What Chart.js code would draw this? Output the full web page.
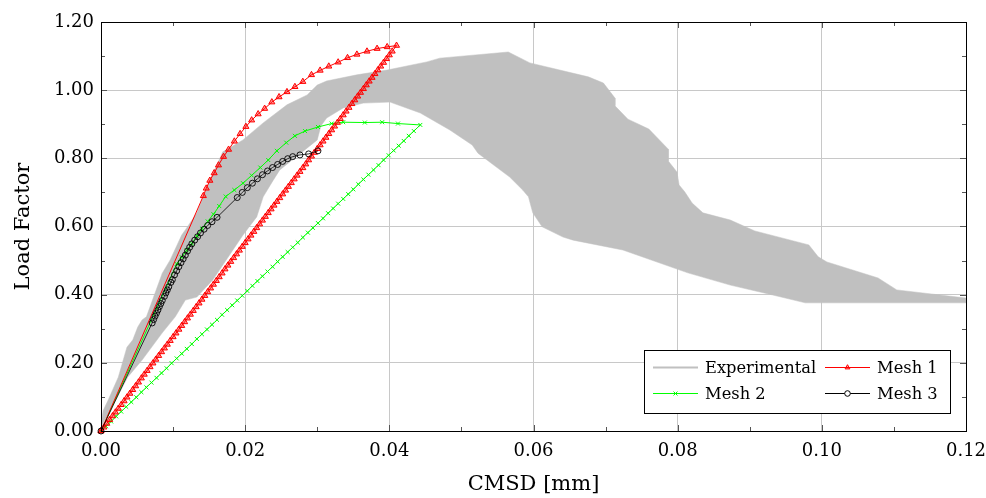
<!DOCTYPE html>
<html>
<head>
<meta charset="utf-8">
<script src="https://cdn.jsdelivr.net/npm/chart.js@4.4.0/dist/chart.umd.min.js"></script>
<style>
  html, body { margin: 0; padding: 0; background: #fff; }
  #wrap { width: 986px; height: 498px; }
</style>
</head>
<body>
<div id="wrap"><canvas id="chart"></canvas></div>
<script>
// tick values
const xTicks = [0, 0.02, 0.04, 0.06, 0.08, 0.10, 0.12];
const yTicks = [0, 0.2, 0.4, 0.6, 0.8, 1.0, 1.2];

// experimental envelope (upper edge left->right, lower edge right->left)
const expUpper = [[0,0.02],[0.0003,0.06],[0.001,0.091],[0.0024,0.158],[0.0036,0.246],[0.0044,0.267],[0.0051,0.305],[0.0057,0.326],[0.0063,0.335],
  [0.0085,0.463],[0.0096,0.502],[0.0112,0.575],[0.0117,0.59],[0.0133,0.640],[0.0151,0.736],[0.0169,0.819],[0.0197,0.854],[0.0225,0.904],
  [0.0258,0.957],[0.0286,0.986],[0.030,1.015],[0.0313,1.027],[0.0355,1.045],[0.0397,1.059],[0.0452,1.083],[0.047,1.094],[0.0565,1.112],
  [0.0595,1.080],[0.0676,1.039],[0.0697,1.021],[0.0713,0.977],[0.0713,0.954],[0.0731,0.915],[0.076,0.886],[0.0787,0.827],[0.0787,0.792],
  [0.0799,0.760],[0.0802,0.722],[0.081,0.701],[0.082,0.669],[0.0835,0.640],[0.0873,0.619],[0.0907,0.587],[0.0982,0.546],[0.0995,0.511],
  [0.1007,0.496],[0.1078,0.449],[0.1104,0.414],[0.12,0.390]];
const expLower = [[0.12,0.376],[0.0977,0.376],[0.0932,0.399],[0.0873,0.428],[0.0814,0.464],[0.0724,0.531],[0.0655,0.560],[0.0641,0.569],
  [0.0612,0.599],[0.0599,0.640],[0.0593,0.687],[0.0585,0.707],[0.0567,0.745],[0.0523,0.815],[0.0515,0.839],[0.0484,0.883],[0.0443,0.933],
  [0.0401,0.965],[0.0364,0.962],[0.0336,0.948],[0.0313,0.918],[0.0305,0.895],[0.030,0.854],[0.0248,0.766],[0.0239,0.736],[0.0225,0.687],
  [0.0216,0.628],[0.0197,0.575],[0.0183,0.531],[0.0155,0.443],[0.0133,0.393],[0.0117,0.384],[0.0103,0.335],[0.0085,0.288],[0.0057,0.208],
  [0.0037,0.158],[0.0015,0.070],[0,0.012]];

// Mesh 1: loading curve then straight unloading
const mesh1Load = [[0,0],[0.0142,0.690],[0.0146,0.712],[0.0151,0.735],[0.0157,0.757],[0.0163,0.780],[0.0170,0.805],[0.0177,0.826],
  [0.0185,0.850],[0.0193,0.872],[0.0201,0.893],[0.0209,0.912],[0.0218,0.930],[0.0227,0.946],[0.0237,0.965],[0.0247,0.980],[0.0258,0.995],
  [0.0269,1.010],[0.0280,1.025],[0.0292,1.045],[0.0304,1.058],[0.0316,1.070],[0.0329,1.082],[0.0342,1.095],[0.0355,1.105],[0.0369,1.114],
  [0.0383,1.122],[0.0397,1.127],[0.0410,1.131]];
const mesh1Unload = [[0.0404,1.114],[0.0400,1.103],[0.0396,1.092],[0.0392,1.081],[0.0388,1.070],[0.0384,1.059],[0.0380,1.048],[0.0376,1.037],
  [0.0372,1.026],[0.0368,1.015],[0.0364,1.004],[0.0360,0.993],[0.0356,0.982],[0.0352,0.971],[0.0348,0.960],[0.0344,0.949],[0.0340,0.938],
  [0.0336,0.927],[0.0332,0.916],[0.0328,0.905],[0.0324,0.894],[0.0320,0.883],[0.0316,0.872],[0.0312,0.861],[0.0308,0.850],[0.0304,0.839],
  [0.0300,0.828],[0.0296,0.817],[0.0292,0.806],[0.0288,0.795],[0.0284,0.783],[0.0280,0.772],[0.0276,0.761],[0.0272,0.750],[0.0268,0.739],
  [0.0264,0.728],[0.0260,0.717],[0.0256,0.706],[0.0252,0.695],[0.0248,0.684],[0.0244,0.673],[0.0240,0.662],[0.0236,0.651],[0.0232,0.640],
  [0.0228,0.629],[0.0224,0.618],[0.0220,0.607],[0.0216,0.596],[0.0212,0.585],[0.0208,0.574],[0.0204,0.563],[0.0200,0.552],[0.0196,0.541],
  [0.0192,0.530],[0.0188,0.519],[0.0184,0.508],[0.0180,0.497],[0.0176,0.486],[0.0172,0.475],[0.0168,0.463],[0.0164,0.452],[0.0160,0.441],
  [0.0156,0.430],[0.0152,0.419],[0.0148,0.408],[0.0144,0.397],[0.0140,0.386],[0.0136,0.375],[0.0132,0.364],[0.0128,0.353],[0.0124,0.342],
  [0.0120,0.331],[0.0116,0.320],[0.0112,0.309],[0.0108,0.298],[0.0104,0.287],[0.0100,0.276],[0.0096,0.265],[0.0092,0.254],[0.0088,0.243],
  [0.0084,0.232],[0.0080,0.221],[0.0076,0.210],[0.0072,0.199],[0.0068,0.188],[0.0064,0.177],[0.0060,0.166],[0.0056,0.155],[0.0052,0.143],
  [0.0048,0.132],[0.0044,0.121],[0.0040,0.110],[0.0036,0.099],[0.0032,0.088],[0.0028,0.077],[0.0024,0.066],[0.0020,0.055],[0.0016,0.044],
  [0.0012,0.033],[0.0008,0.022],[0.0004,0.011],[0,0]];

// Mesh 2
const mesh2Load = [[0,0],[0.0105,0.49],[0.0112,0.51],[0.0119,0.53],[0.0126,0.55],[0.0133,0.572],[0.0140,0.594],[0.0148,0.615],[0.0156,0.636],
  [0.0164,0.660],[0.0173,0.688],[0.0185,0.707],[0.0197,0.727],[0.0209,0.750],[0.0221,0.773],[0.0232,0.795],[0.0244,0.822],[0.0257,0.846],
  [0.0269,0.866],[0.0283,0.880],[0.0301,0.892],[0.0320,0.902],[0.0336,0.906],[0.0366,0.905],[0.0390,0.906],[0.0412,0.902],[0.0443,0.898]];
const mesh2Unload = [[0.0434,0.880],[0.0427,0.866],[0.0420,0.851],[0.0413,0.837],[0.0406,0.823],[0.0399,0.809],[0.0392,0.795],[0.0385,0.780],
  [0.0378,0.766],[0.0371,0.752],[0.0364,0.738],[0.0357,0.724],[0.0350,0.709],[0.0343,0.695],[0.0336,0.681],[0.0329,0.667],[0.0322,0.653],
  [0.0315,0.639],[0.0308,0.624],[0.0301,0.610],[0.0294,0.596],[0.0287,0.582],[0.0280,0.568],[0.0273,0.553],[0.0266,0.539],[0.0259,0.525],
  [0.0252,0.511],[0.0245,0.497],[0.0238,0.482],[0.0231,0.468],[0.0224,0.454],[0.0217,0.440],[0.0210,0.426],[0.0203,0.411],[0.0196,0.397],
  [0.0189,0.383],[0.0182,0.369],[0.0175,0.355],[0.0168,0.341],[0.0161,0.326],[0.0154,0.312],[0.0147,0.298],[0.0140,0.284],[0.0133,0.270],
  [0.0126,0.255],[0.0119,0.241],[0.0112,0.227],[0.0105,0.213],[0.0098,0.199],[0.0091,0.184],[0.0084,0.170],[0.0077,0.156],[0.0070,0.142],
  [0.0063,0.128],[0.0056,0.114],[0.0049,0.099],[0.0042,0.085],[0.0035,0.071],[0.0028,0.057],[0.0021,0.043],[0.0014,0.028],[0.0007,0.014],[0,0]];

// Mesh 3
const mesh3 = [[0,0],[0.0071,0.317],[0.0073,0.327],[0.0075,0.337],[0.0077,0.346],[0.0079,0.355],[0.0081,0.365],[0.0083,0.374],[0.0085,0.383],
  [0.0088,0.395],[0.0090,0.405],[0.0092,0.414],[0.0094,0.423],[0.0097,0.436],[0.0099,0.444],[0.0102,0.458],[0.0105,0.470],[0.0108,0.482],
  [0.0111,0.494],[0.0114,0.505],[0.0117,0.516],[0.0120,0.528],[0.0123,0.539],[0.0126,0.549],[0.0130,0.560],[0.0134,0.570],[0.0138,0.581],
  [0.0143,0.592],[0.0148,0.603],[0.0154,0.614],[0.0161,0.627],[0.0189,0.685],[0.0196,0.700],[0.0203,0.714],[0.0210,0.727],[0.0217,0.740],
  [0.0224,0.752],[0.0231,0.763],[0.0238,0.773],[0.0245,0.782],[0.0252,0.791],[0.0259,0.799],[0.0266,0.805],[0.0276,0.810],[0.0288,0.813],
  [0.0301,0.822]];

const toXY = arr => arr.map(p => ({x: p[0], y: p[1]}));
const serif = 'DejaVu Serif';

// frame + inward ticks on all four sides
const framePlugin = {
  id: 'frame',
  afterDatasetsDraw(chart) {
    const {ctx, chartArea: a, scales} = chart;
    ctx.save();
    ctx.strokeStyle = '#555';
    ctx.lineWidth = 1;
    ctx.beginPath();
    for (let i = 0; i <= 12; i++) {
      const px = Math.round(scales.x.getPixelForValue(i * 0.01)) + 0.5;
      const len = i % 2 === 0 ? 6 : 4;
      ctx.moveTo(px, a.bottom); ctx.lineTo(px, a.bottom - len);
      ctx.moveTo(px, a.top); ctx.lineTo(px, a.top + len);
    }
    for (let i = 0; i <= 12; i++) {
      const py = Math.round(scales.y.getPixelForValue(i * 0.1)) + 0.5;
      const len = i % 2 === 0 ? 6 : 4;
      ctx.moveTo(a.left, py); ctx.lineTo(a.left + len, py);
      ctx.moveTo(a.right, py); ctx.lineTo(a.right - len, py);
    }
    ctx.stroke();
    ctx.strokeStyle = '#000';
    ctx.strokeRect(Math.round(a.left) + 0.5, Math.round(a.top) + 0.5, Math.round(a.right - a.left), Math.round(a.bottom - a.top));
    ctx.restore();
  }
};

// boxed legend, two columns
const legendPlugin = {
  id: 'boxLegend',
  afterDraw(chart) {
    const ctx = chart.ctx;
    const a = chart.chartArea;
    const x0 = a.right - 322, y0 = a.bottom - 81, w = 306, h = 63;
    ctx.save();
    ctx.fillStyle = '#fff';
    ctx.fillRect(x0, y0, w, h);
    ctx.strokeStyle = '#000';
    ctx.lineWidth = 1;
    ctx.strokeRect(x0 + 0.5, y0 + 0.5, w, h);
    const items = [
      {text: 'Experimental', color: '#c0c0c0', style: false, col: 0, row: 0, lw: 2},
      {text: 'Mesh 1', color: '#ff0000', style: 'triangle', fill: 'rgba(255,0,0,0.35)', col: 1, row: 0, lw: 1},
      {text: 'Mesh 2', color: '#00ff00', style: 'crossRot', col: 0, row: 1, lw: 1},
      {text: 'Mesh 3', color: '#000000', style: 'circle', fill: '#fff', col: 1, row: 1, lw: 1}
    ];
    ctx.font = '16.3px "' + serif + '"';
    ctx.textBaseline = 'middle';
    items.forEach(it => {
      const lx = x0 + 9 + it.col * 172;
      const ly = y0 + 17.5 + it.row * 26;
      ctx.strokeStyle = it.color;
      ctx.lineWidth = it.lw;
      ctx.beginPath();
      ctx.moveTo(lx, ly); ctx.lineTo(lx + 45, ly);
      ctx.stroke();
      if (it.style) {
        ctx.fillStyle = it.fill || it.color;
        ctx.lineWidth = 1;
        Chart.helpers.drawPoint(ctx, {pointStyle: it.style, radius: 2.8, borderWidth: 1, rotation: 0}, lx + 22.5, ly);
      }
      ctx.fillStyle = '#000';
      ctx.fillText(it.text, lx + 52, ly + 1);
    });
    ctx.restore();
  }
};

new Chart(document.getElementById('chart'), {
  type: 'line',
  data: {
    datasets: [
      {
        label: 'Mesh 3',
        data: toXY(mesh3),
        borderColor: '#000',
        backgroundColor: 'rgba(255,255,255,0)',
        borderWidth: 0.8,
        pointStyle: 'circle',
        pointRadius: 3,
        pointBorderWidth: 0.9,
        pointBorderColor: '#000',
        pointBackgroundColor: 'rgba(255,255,255,0)',
        fill: false, tension: 0, clip: false, order: 1
      },
      {
        label: 'Mesh 1',
        data: toXY(mesh1Load.concat(mesh1Unload)),
        borderColor: '#ff0000',
        borderWidth: 1,
        pointStyle: 'triangle',
        pointRadius: 3.5,
        pointBorderWidth: 1,
        pointBorderColor: '#ff0000',
        pointBackgroundColor: 'rgba(255,0,0,0.4)',
        fill: false, tension: 0, clip: false, order: 2
      },
      {
        label: 'Mesh 2',
        data: toXY(mesh2Load.concat(mesh2Unload)),
        borderColor: '#00ff00',
        borderWidth: 1,
        pointStyle: 'crossRot',
        pointRadius: 2.8,
        pointBorderWidth: 1,
        pointBorderColor: '#00ff00',
        fill: false, tension: 0, clip: false, order: 3
      },
      {
        label: 'Experimental',
        data: toXY(expUpper.concat(expLower)),
        borderColor: '#c0c0c0',
        backgroundColor: '#c0c0c0',
        borderWidth: 0.5,
        pointRadius: 0,
        fill: 'shape', tension: 0, order: 4
      }
    ]
  },
  options: {
    responsive: true,
    maintainAspectRatio: false,
    animation: false,
    events: [],
    layout: { padding: { top: 22, right: 20, left: 0, bottom: 0 } },
    plugins: { legend: { display: false }, tooltip: { enabled: false } },
    scales: {
      x: {
        type: 'linear', min: 0, max: 0.12,
        afterBuildTicks: s => { s.ticks = xTicks.map(v => ({value: v})); },
        afterFit: s => { s.height = 67; s.paddingLeft = 0; s.paddingRight = 0; },
        ticks: { callback: v => v.toFixed(2), color: '#000', font: { family: serif, size: 18 }, padding: 10, maxRotation: 0 },
        grid: { color: '#c8c8c8', drawTicks: false },
        border: { display: false },
        title: { display: true, text: 'CMSD [mm]', color: '#000', font: { family: serif, size: 21 }, padding: { top: 0, bottom: 1 } }
      },
      y: {
        type: 'linear', min: 0, max: 1.2,
        afterBuildTicks: s => { s.ticks = yTicks.map(v => ({value: v})); },
        afterFit: s => { s.width = 101; s.paddingTop = 0; s.paddingBottom = 0; },
        ticks: { callback: v => v.toFixed(2), color: '#000', font: { family: serif, size: 18 }, padding: 7 },
        grid: { color: '#c8c8c8', drawTicks: false },
        border: { display: false },
        title: { display: true, text: 'Load Factor', color: '#000', font: { family: serif, size: 21 }, padding: { top: 11, bottom: 0 } }
      }
    }
  },
  plugins: [framePlugin, legendPlugin]
});
</script>
</body>
</html>
